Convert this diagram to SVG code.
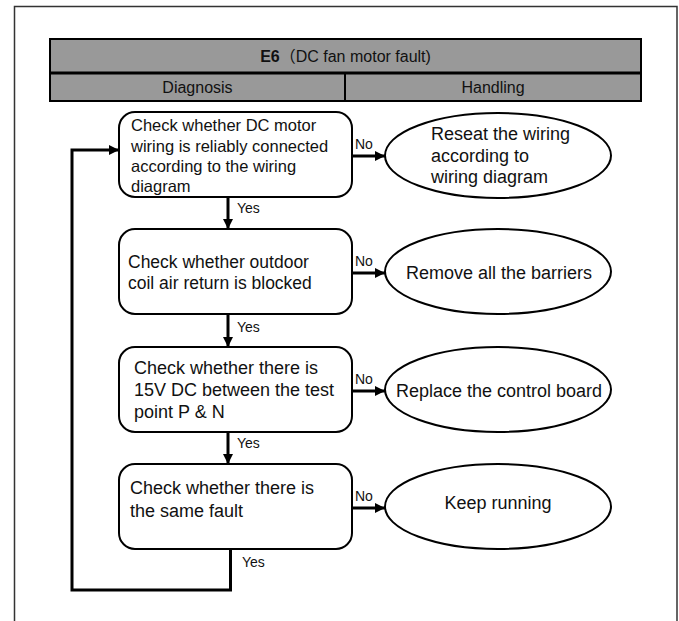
<svg xmlns="http://www.w3.org/2000/svg" width="679" height="621" viewBox="0 0 679 621">
<style>
  .t{font-family:"Liberation Sans",Arial,sans-serif;fill:#111;}
  .box{fill:#fff;stroke:#000;stroke-width:2;}
  .ell{fill:#fff;stroke:#000;stroke-width:2;}
  .line{fill:none;stroke:#000;stroke-width:3;}
  .lbl{font-size:14px;}
  .bt{font-size:18px;}
</style>
<defs>
  <marker id="ah" viewBox="0 0 10 10" refX="10" refY="5" markerWidth="11" markerHeight="10" markerUnits="userSpaceOnUse" orient="auto">
    <path d="M0,0 L10,5 L0,10 Z" fill="#000"/>
  </marker>
</defs>
<rect width="679" height="621" fill="#fff"/>
<path d="M14.5,625 L14.5,6.5 L677,6.5 L677,625" fill="none" stroke="#333" stroke-width="1.5"/>

<g id="header">
  <rect x="50" y="39" width="591" height="62" fill="#999" stroke="#000" stroke-width="2"/>
  <line x1="50" y1="73" x2="641" y2="73" stroke="#000" stroke-width="3"/>
  <line x1="345" y1="73" x2="345" y2="101" stroke="#000" stroke-width="2"/>
  <text class="t" x="345.5" y="62" font-size="16" text-anchor="middle"><tspan font-weight="bold">E6</tspan><tspan font-family="'Noto Sans CJK SC',sans-serif">（</tspan>DC fan motor fault)</text>
  <text class="t" x="197.5" y="93" font-size="16" text-anchor="middle">Diagnosis</text>
  <text class="t" x="493" y="93" font-size="16" text-anchor="middle">Handling</text>
</g>

<g id="connectors">
  <line class="line" x1="228" y1="197" x2="228" y2="229" marker-end="url(#ah)"/>
  <line class="line" x1="228" y1="314" x2="228" y2="347" marker-end="url(#ah)"/>
  <line class="line" x1="228" y1="432" x2="228" y2="464" marker-end="url(#ah)"/>
  <line class="line" x1="352" y1="156" x2="385" y2="156" marker-end="url(#ah)"/>
  <line class="line" x1="352" y1="273" x2="385" y2="273" marker-end="url(#ah)"/>
  <line class="line" x1="352" y1="391" x2="385" y2="391" marker-end="url(#ah)"/>
  <line class="line" x1="352" y1="508" x2="385" y2="508" marker-end="url(#ah)"/>
  <path class="line" d="M230.5,549 L230.5,590 L72,590 L72,150 L119,150" marker-end="url(#ah)"/>
  <text class="t lbl" x="237" y="213">Yes</text>
  <text class="t lbl" x="237" y="332">Yes</text>
  <text class="t lbl" x="237" y="448">Yes</text>
  <text class="t lbl" x="242" y="567">Yes</text>
  <text class="t lbl" x="355" y="149">No</text>
  <text class="t lbl" x="355" y="266">No</text>
  <text class="t lbl" x="355" y="384">No</text>
  <text class="t lbl" x="355" y="501">No</text>
</g>

<g id="box1">
  <rect class="box" x="119" y="112" width="233" height="85" rx="16"/>
  <text class="t" font-size="16.5" x="131" y="131">Check whether DC motor</text>
  <text class="t" font-size="16.5" x="131" y="152">wiring is reliably connected</text>
  <text class="t" font-size="16.5" x="131" y="172">according to the wiring</text>
  <text class="t" font-size="16.5" x="131" y="192">diagram</text>
</g>
<g id="ell1">
  <ellipse class="ell" cx="498" cy="155.5" rx="113" ry="42.5"/>
  <text class="t bt" x="431" y="140">Reseat the wiring</text>
  <text class="t bt" x="431" y="161.5">according to</text>
  <text class="t bt" x="431" y="183">wiring diagram</text>
</g>

<g id="box2">
  <rect class="box" x="119" y="229" width="233" height="85" rx="16"/>
  <text class="t" font-size="17.5" x="128" y="268">Check whether outdoor</text>
  <text class="t" font-size="17.5" x="128" y="288.5">coil air return is blocked</text>
</g>
<g id="ell2">
  <ellipse class="ell" cx="498" cy="271.5" rx="113" ry="42.5"/>
  <text class="t bt" x="499" y="279" text-anchor="middle">Remove all the barriers</text>
</g>

<g id="box3">
  <rect class="box" x="119" y="347" width="233" height="85" rx="16"/>
  <text class="t bt" x="134" y="374">Check whether there is</text>
  <text class="t bt" x="134" y="396">15V DC between the test</text>
  <text class="t bt" x="134" y="418">point P &amp; N</text>
</g>
<g id="ell3">
  <ellipse class="ell" cx="498" cy="389.5" rx="113" ry="42.5"/>
  <text class="t bt" x="499" y="397" text-anchor="middle">Replace the control board</text>
</g>

<g id="box4">
  <rect class="box" x="119" y="464" width="233" height="85" rx="16"/>
  <text class="t bt" x="130" y="494">Check whether there is</text>
  <text class="t bt" x="130" y="517">the same fault</text>
</g>
<g id="ell4">
  <ellipse class="ell" cx="498" cy="506.5" rx="113" ry="42.5"/>
  <text class="t bt" x="498" y="509" text-anchor="middle">Keep running</text>
</g>
</svg>
